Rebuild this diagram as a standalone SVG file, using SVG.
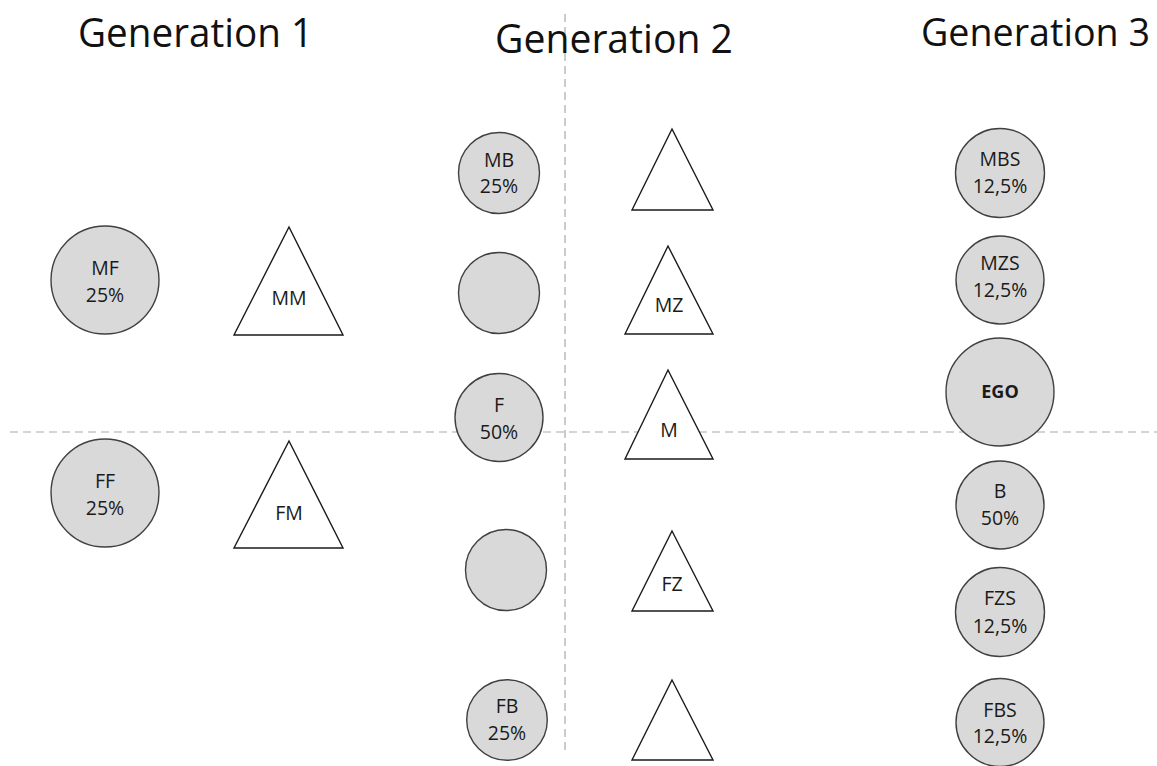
<svg xmlns="http://www.w3.org/2000/svg" width="1157" height="766" viewBox="0 0 1157 766">
<style>
.title{font-family:"Open Sans","Noto Sans",sans-serif;font-size:40px;fill:#111;}
.lbl{font-family:"Open Sans","Noto Sans",sans-serif;font-size:19.5px;fill:#1a1a1a;text-anchor:middle;}
.bold{font-weight:bold;font-size:18px;}
.c{fill:#d9d9d9;stroke:#404040;stroke-width:1.4;}
.t{fill:#fff;stroke:#1a1a1a;stroke-width:1.4;stroke-linejoin:miter;}
.dash{stroke:#aaaaaa;stroke-width:1.2;stroke-dasharray:8 5;fill:none;}
</style>
<rect width="1157" height="766" fill="#fff"/>
<g id="connectors">
<line class="dash" x1="565" y1="14" x2="565" y2="750"/>
<line class="dash" x1="10" y1="432" x2="1157" y2="432"/>
</g>
<g id="titles">
<text class="title" x="78" y="47" textLength="235" lengthAdjust="spacingAndGlyphs">Generation 1</text>
<text class="title" x="495" y="53" textLength="238" lengthAdjust="spacingAndGlyphs">Generation 2</text>
<text class="title" x="921" y="46" style="font-size:37.5px" textLength="229" lengthAdjust="spacingAndGlyphs">Generation 3</text>
</g>
<g id="MF"><circle class="c" cx="105" cy="280" r="54"/><text class="lbl" x="105" y="275">MF</text><text class="lbl" x="105" y="302">25%</text></g>
<g id="MM"><polygon class="t" points="289,227 343,335 234,335"/><text class="lbl" x="289" y="305">MM</text></g>
<g id="FF"><circle class="c" cx="105" cy="493" r="54"/><text class="lbl" x="105" y="488">FF</text><text class="lbl" x="105" y="515">25%</text></g>
<g id="FM"><polygon class="t" points="289,441 343,548 234,548"/><text class="lbl" x="289" y="520">FM</text></g>
<g id="MB"><circle class="c" cx="499" cy="173" r="40.5"/><text class="lbl" x="499" y="167">MB</text><text class="lbl" x="499" y="193">25%</text></g>
<g id="MBW"><polygon class="t" points="672,129 713,210 632,210"/></g>
<g id="MBspouse"><circle class="c" cx="499" cy="293" r="40.5"/></g>
<g id="MZ"><polygon class="t" points="668,246 713,334 625,334"/><text class="lbl" x="669" y="312">MZ</text></g>
<g id="F"><circle class="c" cx="499" cy="417.5" r="44"/><text class="lbl" x="499" y="412">F</text><text class="lbl" x="499" y="439">50%</text></g>
<g id="M"><polygon class="t" points="668,370 713,459 625,459"/><text class="lbl" x="669" y="437">M</text></g>
<g id="FZspouse"><circle class="c" cx="506" cy="570" r="40.5"/></g>
<g id="FZ"><polygon class="t" points="672,531 713,611 632,611"/><text class="lbl" x="672" y="591">FZ</text></g>
<g id="FB"><circle class="c" cx="507" cy="720" r="40.3"/><text class="lbl" x="507" y="713">FB</text><text class="lbl" x="507" y="740">25%</text></g>
<g id="FBW"><polygon class="t" points="672,680 713,760 632,760"/></g>
<g id="MBS"><circle class="c" cx="1000" cy="173" r="44.5"/><text class="lbl" x="1000" y="166">MBS</text><text class="lbl" x="1000" y="193">12,5%</text></g>
<g id="MZS"><circle class="c" cx="1000" cy="280" r="44"/><text class="lbl" x="1000" y="270">MZS</text><text class="lbl" x="1000" y="297">12,5%</text></g>
<g id="EGO"><circle class="c" cx="1000" cy="392" r="54"/><text class="lbl bold" x="1000" y="398">EGO</text></g>
<g id="B"><circle class="c" cx="1000" cy="505" r="44"/><text class="lbl" x="1000" y="498">B</text><text class="lbl" x="1000" y="525">50%</text></g>
<g id="FZS"><circle class="c" cx="1000" cy="612" r="44.5"/><text class="lbl" x="1000" y="605">FZS</text><text class="lbl" x="1000" y="633">12,5%</text></g>
<g id="FBS"><circle class="c" cx="1000" cy="722.5" r="44"/><text class="lbl" x="1000" y="717">FBS</text><text class="lbl" x="1000" y="743">12,5%</text></g>
</svg>
